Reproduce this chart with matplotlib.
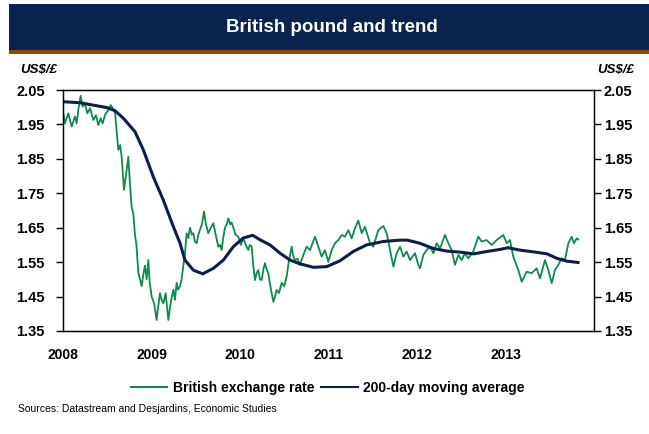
import matplotlib
matplotlib.use("Agg")
import matplotlib.pyplot as plt
from matplotlib.patches import Rectangle
from matplotlib.lines import Line2D

plt.rcParams['font.family'] = ['Liberation Sans', 'DejaVu Sans']

# ---- data ----
rate_t = [2008.000, 2008.022, 2008.060, 2008.098, 2008.135, 2008.154, 2008.173, 2008.199, 2008.222, 2008.248,
          2008.275, 2008.305, 2008.343, 2008.373, 2008.399, 2008.426, 2008.448, 2008.474, 2008.512, 2008.539,
          2008.561, 2008.587, 2008.625, 2008.645, 2008.663, 2008.689, 2008.710, 2008.738, 2008.756, 2008.776,
          2008.795, 2008.813, 2008.830, 2008.851, 2008.870, 2008.889, 2008.905, 2008.926, 2008.945, 2008.964,
          2008.980, 2009.002, 2009.030, 2009.058, 2009.075, 2009.096, 2009.115, 2009.134, 2009.160, 2009.190,
          2009.210, 2009.230, 2009.247, 2009.265, 2009.284, 2009.300, 2009.322, 2009.340, 2009.360, 2009.380,
          2009.397, 2009.415, 2009.435, 2009.455, 2009.472, 2009.490, 2009.510, 2009.530, 2009.548, 2009.570,
          2009.593, 2009.615, 2009.642, 2009.670, 2009.699, 2009.725, 2009.755, 2009.775, 2009.793, 2009.810,
          2009.830, 2009.850, 2009.868, 2009.890, 2009.905, 2009.925, 2009.950, 2009.981, 2010.010, 2010.037,
          2010.065, 2010.094, 2010.110, 2010.132, 2010.150, 2010.169, 2010.190, 2010.207, 2010.225, 2010.245,
          2010.265, 2010.282, 2010.300, 2010.320, 2010.350, 2010.377, 2010.395, 2010.414, 2010.440, 2010.471,
          2010.500, 2010.527, 2010.550, 2010.584, 2010.600, 2010.621, 2010.650, 2010.678, 2010.716, 2010.753,
          2010.791, 2010.847, 2010.885, 2010.923, 2010.960, 2010.998, 2011.036, 2011.073, 2011.111, 2011.149,
          2011.186, 2011.224, 2011.262, 2011.299, 2011.337, 2011.375, 2011.412, 2011.469, 2011.507, 2011.563,
          2011.620, 2011.657, 2011.695, 2011.733, 2011.770, 2011.808, 2011.846, 2011.883, 2011.921, 2011.977,
          2012.015, 2012.034, 2012.072, 2012.109, 2012.147, 2012.185, 2012.222, 2012.260, 2012.316, 2012.354,
          2012.392, 2012.429, 2012.467, 2012.505, 2012.542, 2012.580, 2012.636, 2012.693, 2012.730, 2012.787,
          2012.844, 2012.900, 2012.975, 2013.013, 2013.051, 2013.088, 2013.145, 2013.183, 2013.239, 2013.296,
          2013.352, 2013.390, 2013.446, 2013.484, 2013.522, 2013.559, 2013.597, 2013.635, 2013.672, 2013.710,
          2013.748, 2013.774, 2013.804, 2013.823]
rate_v = [1.987, 1.953, 1.982, 1.944, 1.973, 1.953, 1.992, 2.033, 2.002, 2.011,
          1.982, 1.997, 1.963, 1.977, 1.948, 1.968, 1.953, 1.977, 1.992, 2.006,
          1.997, 1.987, 1.876, 1.890, 1.856, 1.760, 1.800, 1.856, 1.780, 1.710,
          1.690, 1.630, 1.600, 1.520, 1.500, 1.480, 1.510, 1.540, 1.500, 1.556,
          1.490, 1.450, 1.430, 1.382, 1.420, 1.460, 1.440, 1.430, 1.460, 1.382,
          1.420, 1.450, 1.470, 1.440, 1.490, 1.470, 1.480, 1.500, 1.540, 1.580,
          1.634, 1.620, 1.650, 1.630, 1.634, 1.610, 1.605, 1.630, 1.644, 1.660,
          1.697, 1.660, 1.634, 1.650, 1.663, 1.630, 1.595, 1.600, 1.585, 1.620,
          1.650, 1.660, 1.677, 1.660, 1.665, 1.650, 1.630, 1.624, 1.600, 1.620,
          1.600, 1.585, 1.600, 1.595, 1.540, 1.498, 1.520, 1.527, 1.500, 1.498,
          1.530, 1.547, 1.530, 1.517, 1.470, 1.435, 1.450, 1.469, 1.460, 1.490,
          1.480, 1.508, 1.550, 1.595, 1.570, 1.556, 1.560, 1.542, 1.571, 1.595,
          1.585, 1.624, 1.595, 1.566, 1.585, 1.551, 1.585, 1.605, 1.614, 1.629,
          1.624, 1.643, 1.619, 1.648, 1.671, 1.634, 1.653, 1.605, 1.595, 1.643,
          1.655, 1.634, 1.585, 1.537, 1.576, 1.595, 1.566, 1.581, 1.556, 1.576,
          1.542, 1.532, 1.571, 1.585, 1.595, 1.576, 1.605, 1.590, 1.629, 1.605,
          1.585, 1.542, 1.571, 1.556, 1.576, 1.561, 1.581, 1.624, 1.610, 1.614,
          1.600, 1.614, 1.629, 1.605, 1.614, 1.566, 1.527, 1.493, 1.522, 1.518,
          1.532, 1.503, 1.556, 1.527, 1.489, 1.527, 1.542, 1.561, 1.556, 1.605,
          1.624, 1.605, 1.619, 1.616]

ma_t = [2008.000, 2008.192, 2008.343, 2008.493, 2008.587, 2008.682, 2008.813, 2008.908, 2009.020, 2009.134,
        2009.247, 2009.322, 2009.378, 2009.472, 2009.578, 2009.699, 2009.812, 2009.925, 2010.037, 2010.143,
        2010.226, 2010.339, 2010.452, 2010.565, 2010.678, 2010.830, 2010.980, 2011.130, 2011.280, 2011.430,
        2011.620, 2011.810, 2011.890, 2012.030, 2012.180, 2012.340, 2012.490, 2012.640, 2012.790, 2012.940,
        2013.030, 2013.160, 2013.310, 2013.470, 2013.580, 2013.690, 2013.820]
ma_v = [2.016, 2.013, 2.006, 1.999, 1.990, 1.968, 1.929, 1.876, 1.798, 1.730,
        1.653, 1.605, 1.556, 1.527, 1.516, 1.532, 1.556, 1.595, 1.620, 1.628,
        1.615, 1.600, 1.576, 1.556, 1.545, 1.535, 1.537, 1.554, 1.581, 1.600,
        1.610, 1.614, 1.614, 1.605, 1.590, 1.582, 1.579, 1.574, 1.581, 1.587,
        1.592, 1.585, 1.580, 1.574, 1.561, 1.553, 1.549]

years = [2008, 2009, 2010, 2011, 2012, 2013]
yticks = [1.35, 1.45, 1.55, 1.65, 1.75, 1.85, 1.95, 2.05]

title = "British pound and trend"
unit = "US$/£"
rate_label = "British exchange rate"
ma_label = "200-day moving average"
source = "Sources: Datastream and Desjardins, Economic Studies"

GREEN = "#0E8A4C"
NAVY = "#0B1F4B"

W, H = 649, 434
fig = plt.figure(figsize=(W / 100, H / 100), dpi=100)

# title bar
fig.patches.append(Rectangle((9 / W, 1 - 50 / H), 1 - 9 / W, 46 / H, transform=fig.transFigure,
                             facecolor="#0A2350", edgecolor="none"))
fig.patches.append(Rectangle((9 / W, 1 - 54 / H), 1 - 9 / W, 4 / H, transform=fig.transFigure,
                             facecolor="#8B4A0B", edgecolor="none"))
fig.text(332 / W, 1 - 28 / H, title, color="white", fontsize=13.5, fontweight="bold",
         ha="center", va="center")

ax = fig.add_axes([63 / W, 1 - 331 / H, (594 - 63) / W, (331 - 90) / H])
ax.plot(rate_t, rate_v, color=GREEN, lw=1.3)
ax.plot(ma_t, ma_v, color=NAVY, lw=2.2)
ax.set_xlim(2008, 2014)
ax.set_ylim(1.35, 2.05)
ax.set_xticks(years)
ax.set_xticklabels([str(y) for y in years], fontsize=10, fontweight="bold")
ax.tick_params(axis="x", length=0, pad=12)
ax.set_yticks(yticks)
ax.set_yticklabels([f"{v:.2f}" for v in yticks], fontsize=10.5, fontweight="bold")
ax.tick_params(axis="y", direction="out", length=5, width=1, pad=8)
for s in ax.spines.values():
    s.set_linewidth(1.0)
    s.set_color("black")

ax2 = ax.twinx()
ax2.set_ylim(1.35, 2.05)
ax2.set_yticks(yticks)
ax2.set_yticklabels([f"{v:.2f}" for v in yticks], fontsize=10.5, fontweight="bold")
ax2.tick_params(axis="y", direction="out", length=5, width=1, pad=2)

fig.text(39 / W, 1 - 70 / H, unit, fontsize=9.5, fontweight="bold", style="italic",
         ha="center", va="center")
fig.text(616 / W, 1 - 70 / H, unit, fontsize=9.5, fontweight="bold", style="italic",
         ha="center", va="center")

# legend
handles = [Line2D([], [], color=GREEN, lw=1.5), Line2D([], [], color=NAVY, lw=1.5)]
fig.legend(handles, [rate_label, ma_label], loc="center", bbox_to_anchor=(328 / W, 1 - 388 / H),
           ncol=2, frameon=False, prop={"size": 10, "weight": "bold"}, handlelength=2.6,
           handletextpad=0.4, columnspacing=0.5)

fig.text(18 / W, 1 - 409 / H, source, fontsize=7.5, ha="left", va="center")

fig.savefig("out.png", dpi=100)
